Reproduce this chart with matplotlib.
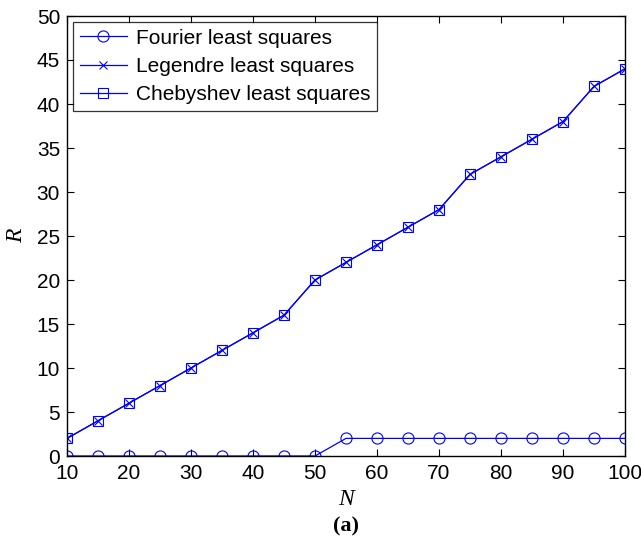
import matplotlib
matplotlib.use("Agg")
import matplotlib.pyplot as plt

N = [10, 15, 20, 25, 30, 35, 40, 45, 50, 55, 60, 65, 70, 75, 80, 85, 90, 95, 100]
fourier = [0, 0, 0, 0, 0, 0, 0, 0, 0, 2, 2, 2, 2, 2, 2, 2, 2, 2, 2]
legendre = [2, 4, 6, 8, 10, 12, 14, 16, 20, 22, 24, 26, 28, 32, 34, 36, 38, 42, 44]
chebyshev = [2, 4, 6, 8, 10, 12, 14, 16, 20, 22, 24, 26, 28, 32, 34, 36, 38, 42, 44]
labels = ["Fourier least squares", "Legendre least squares", "Chebyshev least squares"]

plt.rcParams['font.family'] = ['Liberation Sans', 'DejaVu Sans']
fig = plt.figure(figsize=(6.41, 5.47), dpi=100)
ax = fig.add_axes([67/641, 1 - 456/547, (625-67)/641, (456-16)/547])

blue = '#0000ff'
ax.plot(N, fourier, color=blue, lw=0.9, marker='o', ms=8, mfc='none', mec=blue, mew=0.8, label=labels[0])
ax.plot(N, legendre, color=blue, lw=0.9, marker='x', ms=6, mec=blue, mew=0.8, label=labels[1])
ax.plot(N, chebyshev, color=blue, lw=0.9, marker='s', ms=7, mfc='none', mec=blue, mew=0.8, label=labels[2])

ax.set_xlim(10, 100)
ax.set_ylim(0, 50)
ax.set_xticks(range(10, 101, 10))
ax.set_yticks(range(0, 51, 5))
ax.tick_params(direction='in', top=True, right=True, labelsize=15, length=5, width=0.8)
ax.tick_params(axis='x', pad=6)
ax.tick_params(axis='y', pad=5)
for s in ax.spines.values():
    s.set_linewidth(1.0)

ax.set_xlabel('N', fontsize=17, family='Liberation Serif', style='italic', labelpad=4)
ax.set_ylabel('R', fontsize=17, family='Liberation Serif', style='italic', labelpad=7)

leg = ax.legend(loc='upper left', fontsize=15, frameon=True, fancybox=False,
                edgecolor='black', borderaxespad=0.3, handlelength=2.3,
                borderpad=0.3, labelspacing=0.45, handletextpad=0.4)
leg.get_frame().set_linewidth(0.9)

fig.text(0.5 * (67 + 625) / 641, 1 - 526/547, '(a)', ha='center', va='center',
         fontsize=16, family='Liberation Serif', weight='bold')

fig.savefig('out.png', dpi=100)
